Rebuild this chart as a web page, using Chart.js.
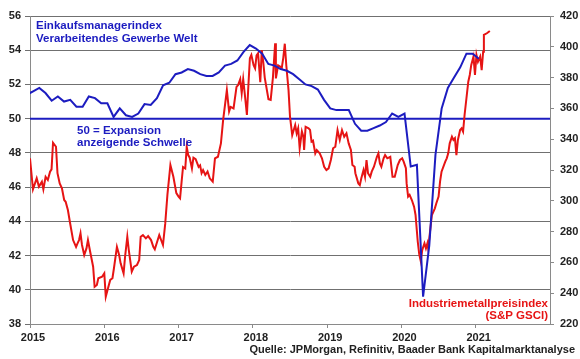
<!DOCTYPE html>
<html>
<head>
<meta charset="utf-8">
<title>Einkaufsmanagerindex und Industriemetallpreise</title>
<script src="https://cdn.jsdelivr.net/npm/chart.js"></script>
<style>
  body { margin: 0; background: #fff; }
  #wrap { width: 580px; height: 359px; }
</style>
</head>
<body>
<div id="wrap"><canvas id="pmiChart" width="580" height="359"></canvas></div>
<script>
// Einkaufsmanagerindex Welt, monatlich ab Dez 2014
const pmiStart = [2014, 12];
const pmiValues = [
  51.4,
  51.6, 51.8, 51.5, 51.05, 51.3, 51.0, 51.1, 50.7, 50.7, 51.3, 51.2, 50.9,
  50.9, 50.1, 50.6, 50.2, 50.1, 50.3, 50.85, 50.8, 51.2, 51.95, 52.1, 52.6,
  52.7, 52.9, 52.8, 52.6, 52.5, 52.5, 52.7, 53.1, 53.2, 53.4, 53.9, 54.3,
  54.1, 53.8, 53.2, 53.1, 52.9, 52.8, 52.6, 52.3, 52.0, 51.9, 51.7, 51.1,
  50.6, 50.5, 50.5, 50.5, 49.7, 49.3, 49.3, 49.45, 49.6, 49.8, 50.3, 50.1,
  50.3, 47.2, 47.3, 39.6, 42.6, 47.9, 50.6, 51.8, 52.4, 53.0, 53.8, 53.8,
  53.5
];

// S&P GSCI Industriemetalle (Zeit als Dezimaljahr)
const metalTime = [
  2015.00,2015.04,2015.09,2015.12,2015.16,2015.18,2015.21,2015.24,2015.27,2015.29,2015.31,2015.35,2015.37,2015.40,2015.43,2015.46,2015.48,2015.51,2015.54,2015.58,2015.62,2015.64,2015.66,2015.68,2015.70,2015.73,2015.76,2015.78,2015.81,2015.85,2015.87,2015.90,2015.92,2015.97,
  2016.00,2016.02,2016.05,2016.08,2016.11,2016.13,2016.17,2016.20,2016.22,2016.26,2016.28,2016.31,2016.33,2016.37,2016.40,2016.44,2016.47,2016.49,2016.52,2016.56,2016.59,2016.63,2016.66,2016.68,2016.74,2016.79,2016.82,2016.85,2016.89,2016.93,2016.97,
  2017.00,2017.02,2017.04,2017.06,2017.09,2017.11,2017.13,2017.15,2017.18,2017.20,2017.23,2017.27,2017.29,2017.31,2017.33,2017.36,2017.39,2017.42,2017.46,2017.49,2017.53,2017.57,2017.60,2017.65,2017.68,2017.70,2017.74,2017.78,2017.80,2017.83,2017.85,2017.87,2017.89,2017.92,2017.94,2017.96,2017.98,
  2018.01,2018.03,2018.05,2018.07,2018.10,2018.12,2018.14,2018.16,2018.21,2018.24,2018.27,2018.30,2018.31,2018.34,2018.39,2018.41,2018.43,2018.45,2018.48,2018.50,2018.53,2018.57,2018.59,2018.61,2018.63,2018.66,2018.68,2018.69,2018.71,2018.75,2018.77,2018.79,2018.81,2018.84,2018.86,2018.90,2018.93,2018.96,2018.99,
  2019.02,2019.05,2019.08,2019.11,2019.14,2019.17,2019.20,2019.23,2019.26,2019.29,2019.32,2019.34,2019.37,2019.38,2019.42,2019.44,2019.46,2019.49,2019.51,2019.53,2019.55,2019.58,2019.60,2019.63,2019.67,2019.69,2019.71,2019.73,2019.76,2019.78,2019.81,2019.85,2019.88,2019.91,2019.95,2019.98,
  2020.01,2020.03,2020.06,2020.07,2020.09,2020.11,2020.14,2020.17,2020.19,2020.22,2020.24,2020.26,2020.28,2020.31,2020.33,2020.35,2020.36,2020.38,2020.41,2020.45,2020.47,2020.50,2020.52,2020.54,2020.59,2020.61,2020.63,2020.65,2020.68,2020.70,2020.72,2020.74,2020.76,2020.79,2020.81,2020.83,2020.85,2020.88,2020.90,2020.92,2020.94,2020.97,2020.99,
  2021.01,2021.03,2021.06,2021.08,2021.10,2021.11,2021.15,2021.19
];
const metalValues = [
  327.6,307.5,314.6,309.2,312.4,307.5,315.6,313.5,318.9,320.4,337.7,335.1,317.9,311.3,308.1,300.5,299.4,294,285.4,274.5,270.1,272.4,274.5,278.9,271.3,264.8,269.1,274.5,266.9,257.2,244.2,245.3,249.7,250.7,
  252.9,237.7,243.2,248.6,249.7,256.2,270.1,264.8,259.4,252.9,263.7,276.7,268,254,257.2,258.3,261.5,276.7,277.8,275.6,277.1,274.5,270.1,268.5,277.8,271.3,285,304,323.2,315.6,305,
  302.7,301.6,312,322,321,335,329.7,328,321,328,327,322,323,318,320,316.8,319,314.6,312.4,327.6,328.6,337.3,352.5,371.9,358,361,360,374,375,379,370,379,370,355.7,375,392.5,394.7,
  388,386,394.5,395.8,377,397.9,390,380,366,365.5,380,402.3,379.5,388,386.5,393,402,388,372,354.6,342.7,349.2,343.8,347.1,334.1,345,341.6,333,348.1,347.1,346,338.4,339,330.8,333,330.8,327.6,322.1,320,
  321.1,326.5,334.1,335.1,345.9,339.5,345.9,341.6,343.8,337.3,333,323.2,322.1,317.9,311.3,310.2,314.6,320,315.6,326.5,317.9,315.6,318.9,322.1,328.6,330.8,324.3,322.1,327.6,329.7,327.6,328.6,315.6,315.6,323.2,326.5,
  327.6,325.4,321.1,311.3,302.7,303.8,300.5,296.2,290.8,273.4,265.2,260.9,268,272.4,269.1,272.4,269.1,277.8,290.8,295.1,298.4,302.7,312.4,318.9,325.4,327.6,330.8,337.3,341.6,339.5,340.6,329.7,339.5,346,347.1,344.9,355.7,368.7,377.3,381.7,388.2,393.6,381.7,
  394.7,390.3,393.6,384.9,396.8,407.7,408.8,410.3
];

// 50 = Expansionsschwelle
const expansionX = [2015, 2022];
const expansionY = [50, 50];

const yearTicks = [2015, 2016, 2017, 2018, 2019, 2020, 2021];

const blue = '#1c1cc0';
const red = '#e61414';
const gridGrey = '#707070';
const axisGrey = '#8a8a8a';
const fontFam = 'Arial, "Liberation Sans", sans-serif';

// Monatswerte in die Monatsmitte legen
const pmiPoints = pmiValues.map((v, i) => {
  const m = pmiStart[1] - 1 + i;
  return { x: pmiStart[0] + (m + 0.5) / 12, y: v };
});
const metalPoints = metalTime.map((t, i) => ({ x: t, y: metalValues[i] }));
const expansionPoints = expansionX.map((t, i) => ({ x: t, y: expansionY[i] }));

const notes = {
  id: 'notes',
  afterDraw(chart) {
    const c = chart.ctx;
    c.save();
    c.font = 'bold 11.5px ' + fontFam;
    c.textAlign = 'left';
    c.fillStyle = blue;
    c.fillText('Einkaufsmanagerindex', 36, 29);
    c.fillText('Verarbeitendes Gewerbe Welt', 36, 42);
    c.fillText('50 = Expansion', 77, 134);
    c.fillText('anzeigende Schwelle', 77, 145.5);
    c.textAlign = 'right';
    c.fillStyle = red;
    c.fillText('Industriemetallpreisindex', 548, 307);
    c.fillText('(S&P GSCI)', 548, 319);
    c.font = 'bold 11px ' + fontFam;
    c.fillStyle = '#222';
    c.fillText('Quelle: JPMorgan, Refinitiv, Baader Bank Kapitalmarktanalyse', 575, 353);
    c.restore();
  }
};

const tickFont = { family: fontFam, size: 11, weight: 'bold' };

new Chart(document.getElementById('pmiChart'), {
  type: 'line',
  data: {
    datasets: [
      { label: 'Einkaufsmanagerindex', data: pmiPoints, yAxisID: 'yL', borderColor: blue, borderWidth: 2, pointRadius: 0, order: 1 },
      { label: 'Industriemetallpreisindex', data: metalPoints, yAxisID: 'yR', borderColor: red, borderWidth: 2, pointRadius: 0, order: 2 },
      { label: '50', data: expansionPoints, yAxisID: 'yL', borderColor: blue, borderWidth: 2, pointRadius: 0, order: 3 }
    ]
  },
  options: {
    responsive: false,
    animation: false,
    events: [],
    layout: { padding: { top: 16, left: 0, right: 0, bottom: 0 } },
    plugins: { legend: { display: false }, tooltip: { enabled: false } },
    scales: {
      x: {
        type: 'linear', min: 2015, max: 2022,
        afterFit: s => { s.height = 35; },
        afterBuildTicks: s => { s.ticks = yearTicks.map(v => ({ value: v })); },
        grid: { drawOnChartArea: false, tickLength: 4, color: axisGrey },
        border: { color: axisGrey },
        ticks: { font: tickFont, color: '#222', padding: 3, labelOffset: 3, maxRotation: 0, autoSkip: false, callback: v => String(v) }
      },
      yL: {
        position: 'left', min: 38, max: 56,
        afterFit: s => { s.width = 30; },
        grid: { color: gridGrey, tickLength: 5 },
        border: { color: axisGrey },
        ticks: { stepSize: 2, font: tickFont, color: '#222', padding: 4 }
      },
      yR: {
        position: 'right', min: 220, max: 420,
        afterFit: s => { s.width = 30; },
        grid: { drawOnChartArea: false, tickLength: 4, color: axisGrey },
        border: { color: axisGrey },
        ticks: { stepSize: 20, font: tickFont, color: '#222', padding: 6 }
      }
    }
  },
  plugins: [notes]
});
</script>
</body>
</html>
